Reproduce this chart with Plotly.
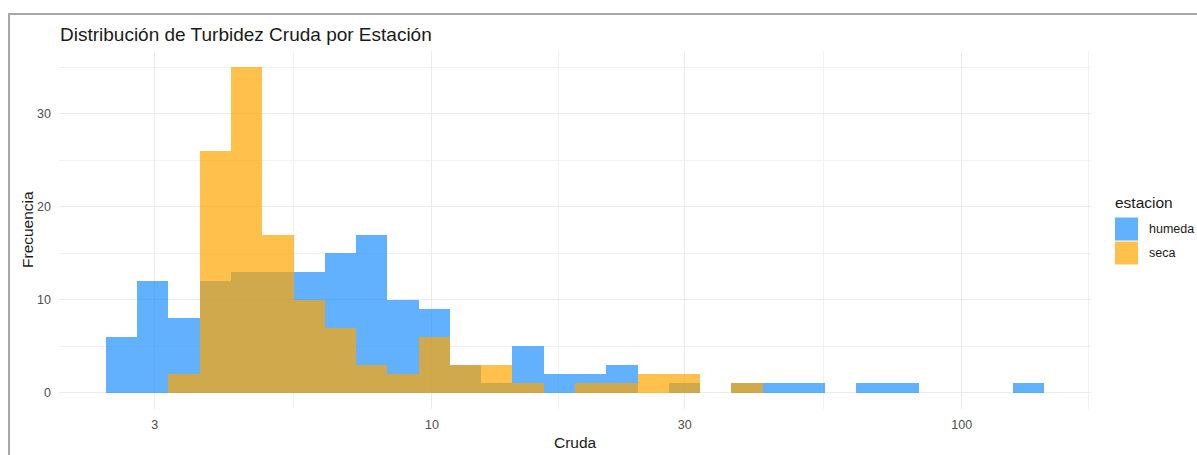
import numpy as np
import plotly.graph_objects as go

# Histogram of raw turbidity (log10 scale), 30 equal-width bins in log space
cruda_min = 2.596      # centre of the first bin (NTU)
cruda_max = 133.6      # centre of the last bin (NTU)
n_bins = 30

estaciones = ["humeda", "seca"]
humeda = [6, 12, 8, 12, 13, 13, 13, 15, 17, 10, 9, 3, 1, 5, 2, 2, 3, 0, 1, 0,
          1, 1, 1, 0, 1, 1, 0, 0, 0, 1]
seca = [0, 0, 2, 26, 35, 17, 10, 7, 3, 2, 6, 3, 3, 1, 0, 1, 1, 2, 2, 0,
        1, 0, 0, 0, 0, 0, 0, 0, 0, 0]

x_ticks = [3, 10, 30, 100]
x_tick_labels = ["3", "10", "30", "100"]
y_ticks = [0, 10, 20, 30]

fill_colors = {"humeda": "rgba(30,144,255,0.7)", "seca": "rgba(255,165,0,0.7)"}

# --- bin geometry in log10 space -------------------------------------------
lo, hi = np.log10(cruda_min), np.log10(cruda_max)
bw = (hi - lo) / (n_bins - 1)
centers = lo + bw * np.arange(n_bins)
x_lo, x_hi = lo - bw / 2, hi + bw / 2
pad = 0.05 * (x_hi - x_lo)
x_range = [x_lo - pad, x_hi + pad]

y_max = max(max(humeda), max(seca))
y_range = [-0.05 * y_max, 1.05 * y_max]

major_x = np.log10(x_ticks)
ext = np.concatenate(([0.0], major_x, [np.log10(300)]))
minor_x = list((ext[:-1] + ext[1:]) / 2)

# --- figure -----------------------------------------------------------------
W, H = 1197, 455
ML, MR, MT, MB = 59, 106, 51, 46
PW, PH = W - ML - MR, H - MT - MB


def px(x):
    return (x - ML) / PW


def py(y):
    return (H - MB - y) / PH


font_family = "Liberation Sans, Arial, sans-serif"

fig = go.Figure()
for name, counts in zip(estaciones, [humeda, seca]):
    fig.add_trace(go.Bar(
        x=centers, y=counts, width=bw, name=name,
        marker=dict(color=fill_colors[name], line=dict(width=0)),
        showlegend=False,
    ))

fig.update_layout(
    width=W, height=H,
    margin=dict(l=ML, r=MR, t=MT, b=MB),
    barmode="overlay", bargap=0,
    plot_bgcolor="white", paper_bgcolor="white",
    font=dict(family=font_family, color="#4D4D4D"),
    title=dict(
        text="Distribución de Turbidez Cruda por Estación",
        font=dict(size=19, color="#1A1A1A", family=font_family),
        xref="container", x=60 / W, xanchor="left",
        yref="container", y=1 - 34 / H, yanchor="middle",
    ),
    xaxis=dict(
        range=x_range, tickmode="array", tickvals=major_x, ticktext=x_tick_labels,
        showgrid=True, gridcolor="#EBEBEB", gridwidth=1, zeroline=False,
        showline=False, ticks="", ticklabelstandoff=6,
        tickfont=dict(size=12.5, color="#4D4D4D"),
        minor=dict(tickmode="array", tickvals=minor_x, showgrid=True,
                   gridcolor="#F1F1F1", gridwidth=1),
    ),
    yaxis=dict(
        range=y_range, tickmode="array", tickvals=y_ticks,
        showgrid=True, gridcolor="#EBEBEB", gridwidth=1, zeroline=False,
        showline=False, ticks="", ticklabelstandoff=7,
        tickfont=dict(size=12.5, color="#4D4D4D"),
        minor=dict(tickmode="array", tickvals=[5, 15, 25, 35], showgrid=True,
                   gridcolor="#F1F1F1", gridwidth=1),
    ),
)

annotations = [
    dict(text="Cruda", x=0.5, y=py(442), xref="paper", yref="paper",
         xanchor="center", yanchor="middle", showarrow=False,
         font=dict(size=15.5, color="#1A1A1A")),
    dict(text="Frecuencia", x=px(27), y=0.5, xref="paper", yref="paper",
         xanchor="center", yanchor="middle", textangle=-90, showarrow=False,
         font=dict(size=15.5, color="#1A1A1A")),
    dict(text="estacion", x=px(1113), y=py(202), xref="paper", yref="paper",
         xanchor="left", yanchor="middle", showarrow=False,
         font=dict(size=15.5, color="#1A1A1A")),
]

shapes = []
key_top = 217
key_size = 24
for i, name in enumerate(estaciones):
    y0 = key_top + i * key_size
    shapes.append(dict(type="rect", xref="paper", yref="paper",
                       x0=px(1115), x1=px(1138), y0=py(y0 + 0.5), y1=py(y0 + key_size - 0.5),
                       fillcolor=fill_colors[name], line=dict(width=0)))
    annotations.append(dict(text=name, x=px(1147), y=py(y0 + key_size / 2),
                            xref="paper", yref="paper", xanchor="left",
                            yanchor="middle", showarrow=False,
                            font=dict(size=12.5, color="#1A1A1A")))

# outer frame (top and left edges)
shapes.append(dict(type="line", xref="paper", yref="paper",
                   x0=px(8), x1=px(W + 5), y0=py(14), y1=py(14),
                   line=dict(color="#A9A9A9", width=2)))
shapes.append(dict(type="line", xref="paper", yref="paper",
                   x0=px(9), x1=px(9), y0=py(13), y1=py(H + 5),
                   line=dict(color="#A9A9A9", width=2)))

fig.update_layout(annotations=annotations, shapes=shapes)

fig.write_html("out.html")
